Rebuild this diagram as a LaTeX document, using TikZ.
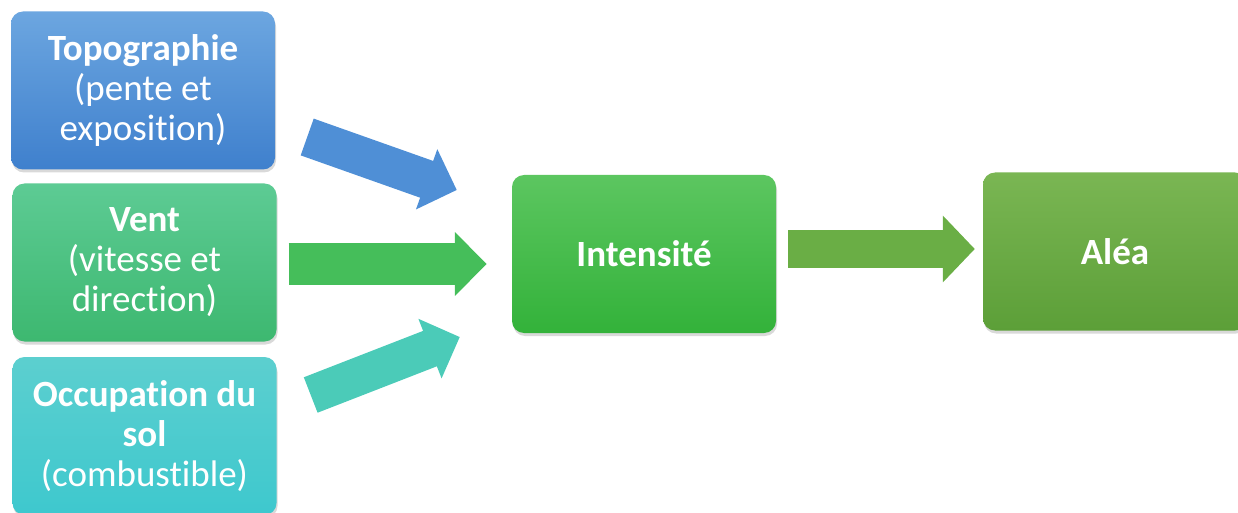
\documentclass[tikz,border=0pt]{standalone}
\usepackage{fontspec}
\setmainfont{Carlito}[Ligatures=NoCommon]
\usepackage{tikz}
\usetikzlibrary{arrows.meta,calc,shadows}

\definecolor{topoTop}{HTML}{6CA6E0}
\definecolor{topoBot}{HTML}{3F80CD}
\definecolor{ventTop}{HTML}{5DCB94}
\definecolor{ventBot}{HTML}{3DB870}
\definecolor{solTop}{HTML}{5CCFCF}
\definecolor{solBot}{HTML}{3EC8CE}
\definecolor{intTop}{HTML}{5CC660}
\definecolor{intBot}{HTML}{33B23A}
\definecolor{aleaTop}{HTML}{7AB653}
\definecolor{aleaBot}{HTML}{5C9F38}

\begin{document}
\begin{tikzpicture}[
  x=1pt, y=1pt,
  card/.style={
    rectangle,
    rounded corners=12pt,
    align=center,
    text=white,
    minimum width=264pt,
    minimum height=158pt,
    font=\fontsize{37}{40}\selectfont,
    drop shadow={shadow xshift=1pt, shadow yshift=-3pt, opacity=.3}
  },
  flow/.style={line width=40pt, -{Triangle[length=32pt, width=62pt]}}
]
\useasboundingbox (0,0) rectangle (1238,512);

\node[card, top color=topoTop, bottom color=topoBot] (topo) at (143, 421.5) {\textbf{Topographie}\\(pente et\\exposition)};
\node[card, top color=ventTop, bottom color=ventBot] (vent) at (144.5, 249.5) {\textbf{Vent}\\(vitesse et\\direction)};
\node[card, top color=solTop, bottom color=solBot] (sol) at (144.5, 76) {\textbf{Occupation du}\\\textbf{sol}\\(combustible)};
\node[card, top color=intTop, bottom color=intBot] (intens) at (644, 258) {\textbf{Intensité}};
\node[card, top color=aleaTop, bottom color=aleaBot] (alea) at (1115, 260.5) {\textbf{Aléa}};

\draw[flow, color={rgb,255:red,79;green,143;blue,214}, line width=39pt] ($(topo.east)+(32,-46.5)$) -- ($(intens.west)+(-55,64)$);
\draw[flow, color={rgb,255:red,69;green,190;blue,90}, line width=42pt] ($(vent.east)+(12,-1.5)$) -- ($(intens.west)+(-25,-10)$);
\draw[flow, color={rgb,255:red,75;green,203;blue,184}, line width=38pt] ($(sol.east)+(34,41)$) -- ($(intens.west)+(-52,-83)$);
\draw[flow, color={rgb,255:red,106;green,174;blue,69}, line width=38pt, -{Triangle[length=32pt, width=65pt]}] ($(intens.east)+(12,5)$) -- ($(alea.west)+(-8,2.5)$);

\end{tikzpicture}
\end{document}
